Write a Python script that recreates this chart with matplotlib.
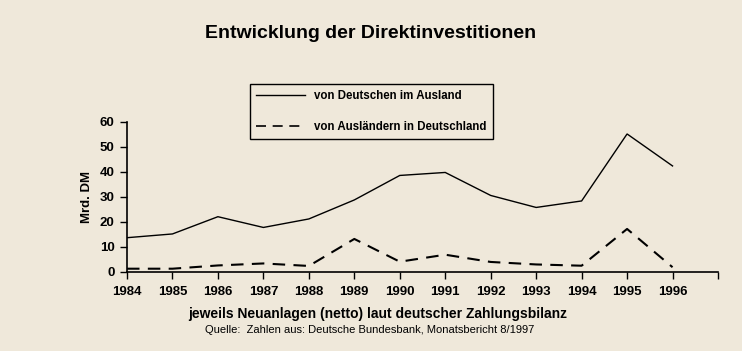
import matplotlib
matplotlib.use("Agg")
import matplotlib.pyplot as plt
from matplotlib.lines import Line2D

years = ["1984", "1985", "1986", "1987", "1988", "1989", "1990",
         "1991", "1992", "1993", "1994", "1995", "1996"]
deutsche_im_ausland = [13.6, 15.1, 22.0, 17.7, 21.1, 28.7, 38.5,
                       39.7, 30.5, 25.7, 28.3, 55.1, 42.3]
auslaender_in_de = [1.2, 1.2, 2.5, 3.3, 2.3, 13.1, 4.0,
                    6.8, 3.9, 2.9, 2.4, 17.1, 1.8]
yticks = [0, 10, 20, 30, 40, 50, 60]

bg = "#EFE8DA"
plt.rcParams['font.family'] = ['Liberation Sans', 'DejaVu Sans']

fig = plt.figure(figsize=(7.42, 3.51), dpi=100, facecolor=bg)
ax = fig.add_axes([127 / 742, 1 - 271.7 / 351, (718 - 127) / 742, 150 / 351])
ax.set_facecolor(bg)

x = list(range(len(years)))
ax.plot(x, deutsche_im_ausland, color="black", lw=1.0, solid_joinstyle="miter")
ax.plot(x, auslaender_in_de, color="black", lw=1.5, dashes=(6, 4))

ax.set_xlim(0, len(years))
ax.set_ylim(0, 60)
ax.set_xticks(list(range(len(years) + 1)))
ax.set_xticklabels(years + [""], fontsize=9.5, fontweight="bold")
ax.set_yticks(yticks)
ax.set_yticklabels([str(v) for v in yticks], fontsize=9.5, fontweight="bold")
ax.tick_params(axis="both", direction="out", length=5, width=1, color="black", pad=4)
ax.tick_params(axis="x", pad=5)
for s in ["top", "right"]:
    ax.spines[s].set_visible(False)
for s in ["left", "bottom"]:
    ax.spines[s].set_linewidth(1.2)
ax.set_ylabel("Mrd. DM", fontsize=9.5, fontweight="bold", labelpad=5)

fig.text(0.5, 1 - 33 / 351, "Entwicklung der Direktinvestitionen",
         ha="center", va="center", fontsize=14, fontweight="bold",
         family=['Liberation Sans Narrow', 'Liberation Sans', 'DejaVu Sans'])
fig.text(378 / 742, 1 - 317.7 / 351,
         "jeweils Neuanlagen (netto) laut deutscher Zahlungsbilanz",
         ha="center", va="baseline", fontsize=10, fontweight="bold")
fig.text(370 / 742, 1 - 333 / 351,
         "Quelle:  Zahlen aus: Deutsche Bundesbank, Monatsbericht 8/1997",
         ha="center", va="baseline", fontsize=8)

handles = [Line2D([], [], color="black", lw=1.0),
           Line2D([], [], color="black", lw=1.2, dashes=(6, 4))]
leg = fig.legend(handles, ["von Deutschen im Ausland", "von Ausländern in Deutschland"],
                 loc="upper left", bbox_to_anchor=(250 / 742, 1 - 84 / 351),
                 bbox_transform=fig.transFigure, borderaxespad=0,
                 prop={"size": 8.3, "weight": "bold"}, frameon=True, fancybox=False,
                 edgecolor="black", facecolor=bg, framealpha=1,
                 handlelength=4.2, labelspacing=1.6, borderpad=0.55,
                 handletextpad=0.8)
leg.get_frame().set_linewidth(1.0)

fig.savefig("out.png", dpi=100, facecolor=bg)
